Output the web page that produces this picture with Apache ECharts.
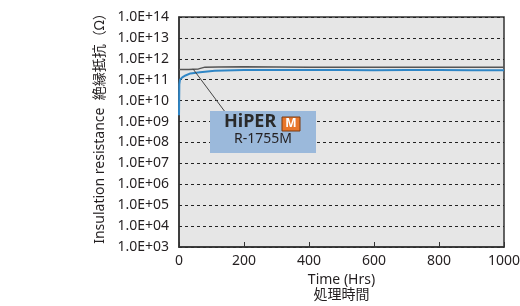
<!DOCTYPE html>
<html>
<head>
<meta charset="utf-8">
<script src="https://cdn.jsdelivr.net/npm/echarts@6/dist/echarts.min.js"></script>
<style>
  html, body { margin: 0; padding: 0; background: #fff; }
</style>
</head>
<body>
<div id="chart" style="width: 520px; height: 306px;"></div>
<script>
// time axis (hours)
const xTicks = [0, 200, 400, 600, 800, 1000];
const yTickLabels = ['1.0E+03', '1.0E+04', '1.0E+05', '1.0E+06', '1.0E+07', '1.0E+08', '1.0E+09',
  '1.0E+10', '1.0E+11', '1.0E+12', '1.0E+13', '1.0E+14'];

// blue curve (Ohm)
const blueTime = [0, 1, 3, 10, 20, 35, 65, 110, 200, 300, 400, 500, 600, 700, 800, 900, 1000];
const blueVal = [2.0e9, 6.0e10, 1.0e11, 1.3e11, 1.6e11, 2.0e11, 2.3e11, 2.7e11, 2.9e11, 2.9e11,
  2.95e11, 2.9e11, 2.85e11, 2.9e11, 2.9e11, 2.85e11, 2.85e11];

// gray curve (Ohm)
const grayTime = [0, 30, 60, 80, 120, 200, 300, 400, 500, 600, 700, 800, 900, 1000];
const grayVal = [3.1e11, 3.1e11, 3.3e11, 4.0e11, 4.1e11, 4.2e11, 4.1e11, 4.0e11, 3.9e11,
  3.9e11, 3.9e11, 3.95e11, 3.9e11, 3.9e11];

const FONT = '"Noto Sans", "Noto Sans CJK JP", sans-serif';
const TXT = '#231f20';

const chart = echarts.init(document.getElementById('chart'));
chart.setOption({
  animation: false,
  textStyle: { fontFamily: FONT },
  grid: {
    left: 179, right: 16, top: 17, bottom: 59,
    outerBoundsMode: 'none', containLabel: false,
    show: true, backgroundColor: '#e6e6e6', borderColor: '#333', borderWidth: 1.5
  },
  xAxis: {
    type: 'value', min: 0, max: 1000, interval: 200,
    name: 'Time (Hrs)\n処理時間',
    nameLocation: 'middle', nameGap: 24,
    nameTextStyle: { color: TXT, fontSize: 14, lineHeight: 15, fontFamily: FONT },
    axisLine: { lineStyle: { color: '#333', width: 1.5 } },
    axisTick: { inside: true, length: 5, lineStyle: { color: '#333' } },
    axisLabel: {
      color: TXT, fontSize: 14, margin: 7, fontFamily: FONT,
      formatter: (v) => String(xTicks[xTicks.indexOf(v)])
    },
    splitLine: { show: false }
  },
  yAxis: {
    type: 'log', logBase: 10, min: 1e3, max: 1e14, interval: 1,
    name: 'Insulation resistance  絶縁抵抗（Ω）',
    nameLocation: 'middle', nameGap: 72,
    nameTextStyle: { color: TXT, fontSize: 14, fontFamily: FONT, padding: [0, 0, 0, 14] },
    axisLine: { lineStyle: { color: '#333', width: 1.5 } },
    axisTick: { show: false },
    axisLabel: {
      color: TXT, fontSize: 14, margin: 10, fontFamily: FONT,
      formatter: (v) => yTickLabels[Math.round(Math.log10(v)) - 3]
    },
    splitLine: { show: true, lineStyle: { color: '#222', type: [3, 3], width: 1 } }
  },
  series: [
    {
      type: 'line', symbol: 'none',
      data: grayTime.map((t, i) => [t, grayVal[i]]),
      lineStyle: { color: '#555', width: 1.5 },
      z: 3,
      markLine: {
        silent: true, symbol: 'none', label: { show: false },
        lineStyle: { color: '#444', width: 1, type: 'solid' },
        data: [[{ coord: [43, 3.3e11] }, { coord: [141, 3.0e9] }]]
      }
    },
    {
      type: 'line', symbol: 'none',
      data: blueTime.map((t, i) => [t, blueVal[i]]),
      lineStyle: { color: '#2f86c6', width: 2 },
      z: 2
    }
  ],
  graphic: [
    {
      type: 'group', left: 210, top: 111, z: 100,
      children: [
        { type: 'rect', z: 100, shape: { x: 0, y: 0, width: 106, height: 42 }, style: { fill: '#9bb9db' } },
        {
          type: 'text', z: 101, x: 14, y: 2,
          style: { text: 'HiPER', font: 'bold 18px "Liberation Sans Narrow", ' + FONT, fill: '#2a2a2a' }
        },
        { type: 'rect', z: 101, shape: { x: 72, y: 6, width: 18, height: 14 }, style: { fill: '#e8762b', stroke: '#7a3a10', lineWidth: 1 } },
        {
          type: 'text', z: 102, x: 81, y: 13,
          style: { text: 'M', font: 'bold 12px ' + FONT, fill: '#fff', align: 'center', verticalAlign: 'middle' }
        },
        {
          type: 'text', z: 101, x: 53, y: 28,
          style: { text: 'R-1755M', font: '14px ' + FONT, fill: TXT, align: 'center', verticalAlign: 'middle' }
        }
      ]
    }
  ]
});
</script>
</body>
</html>
